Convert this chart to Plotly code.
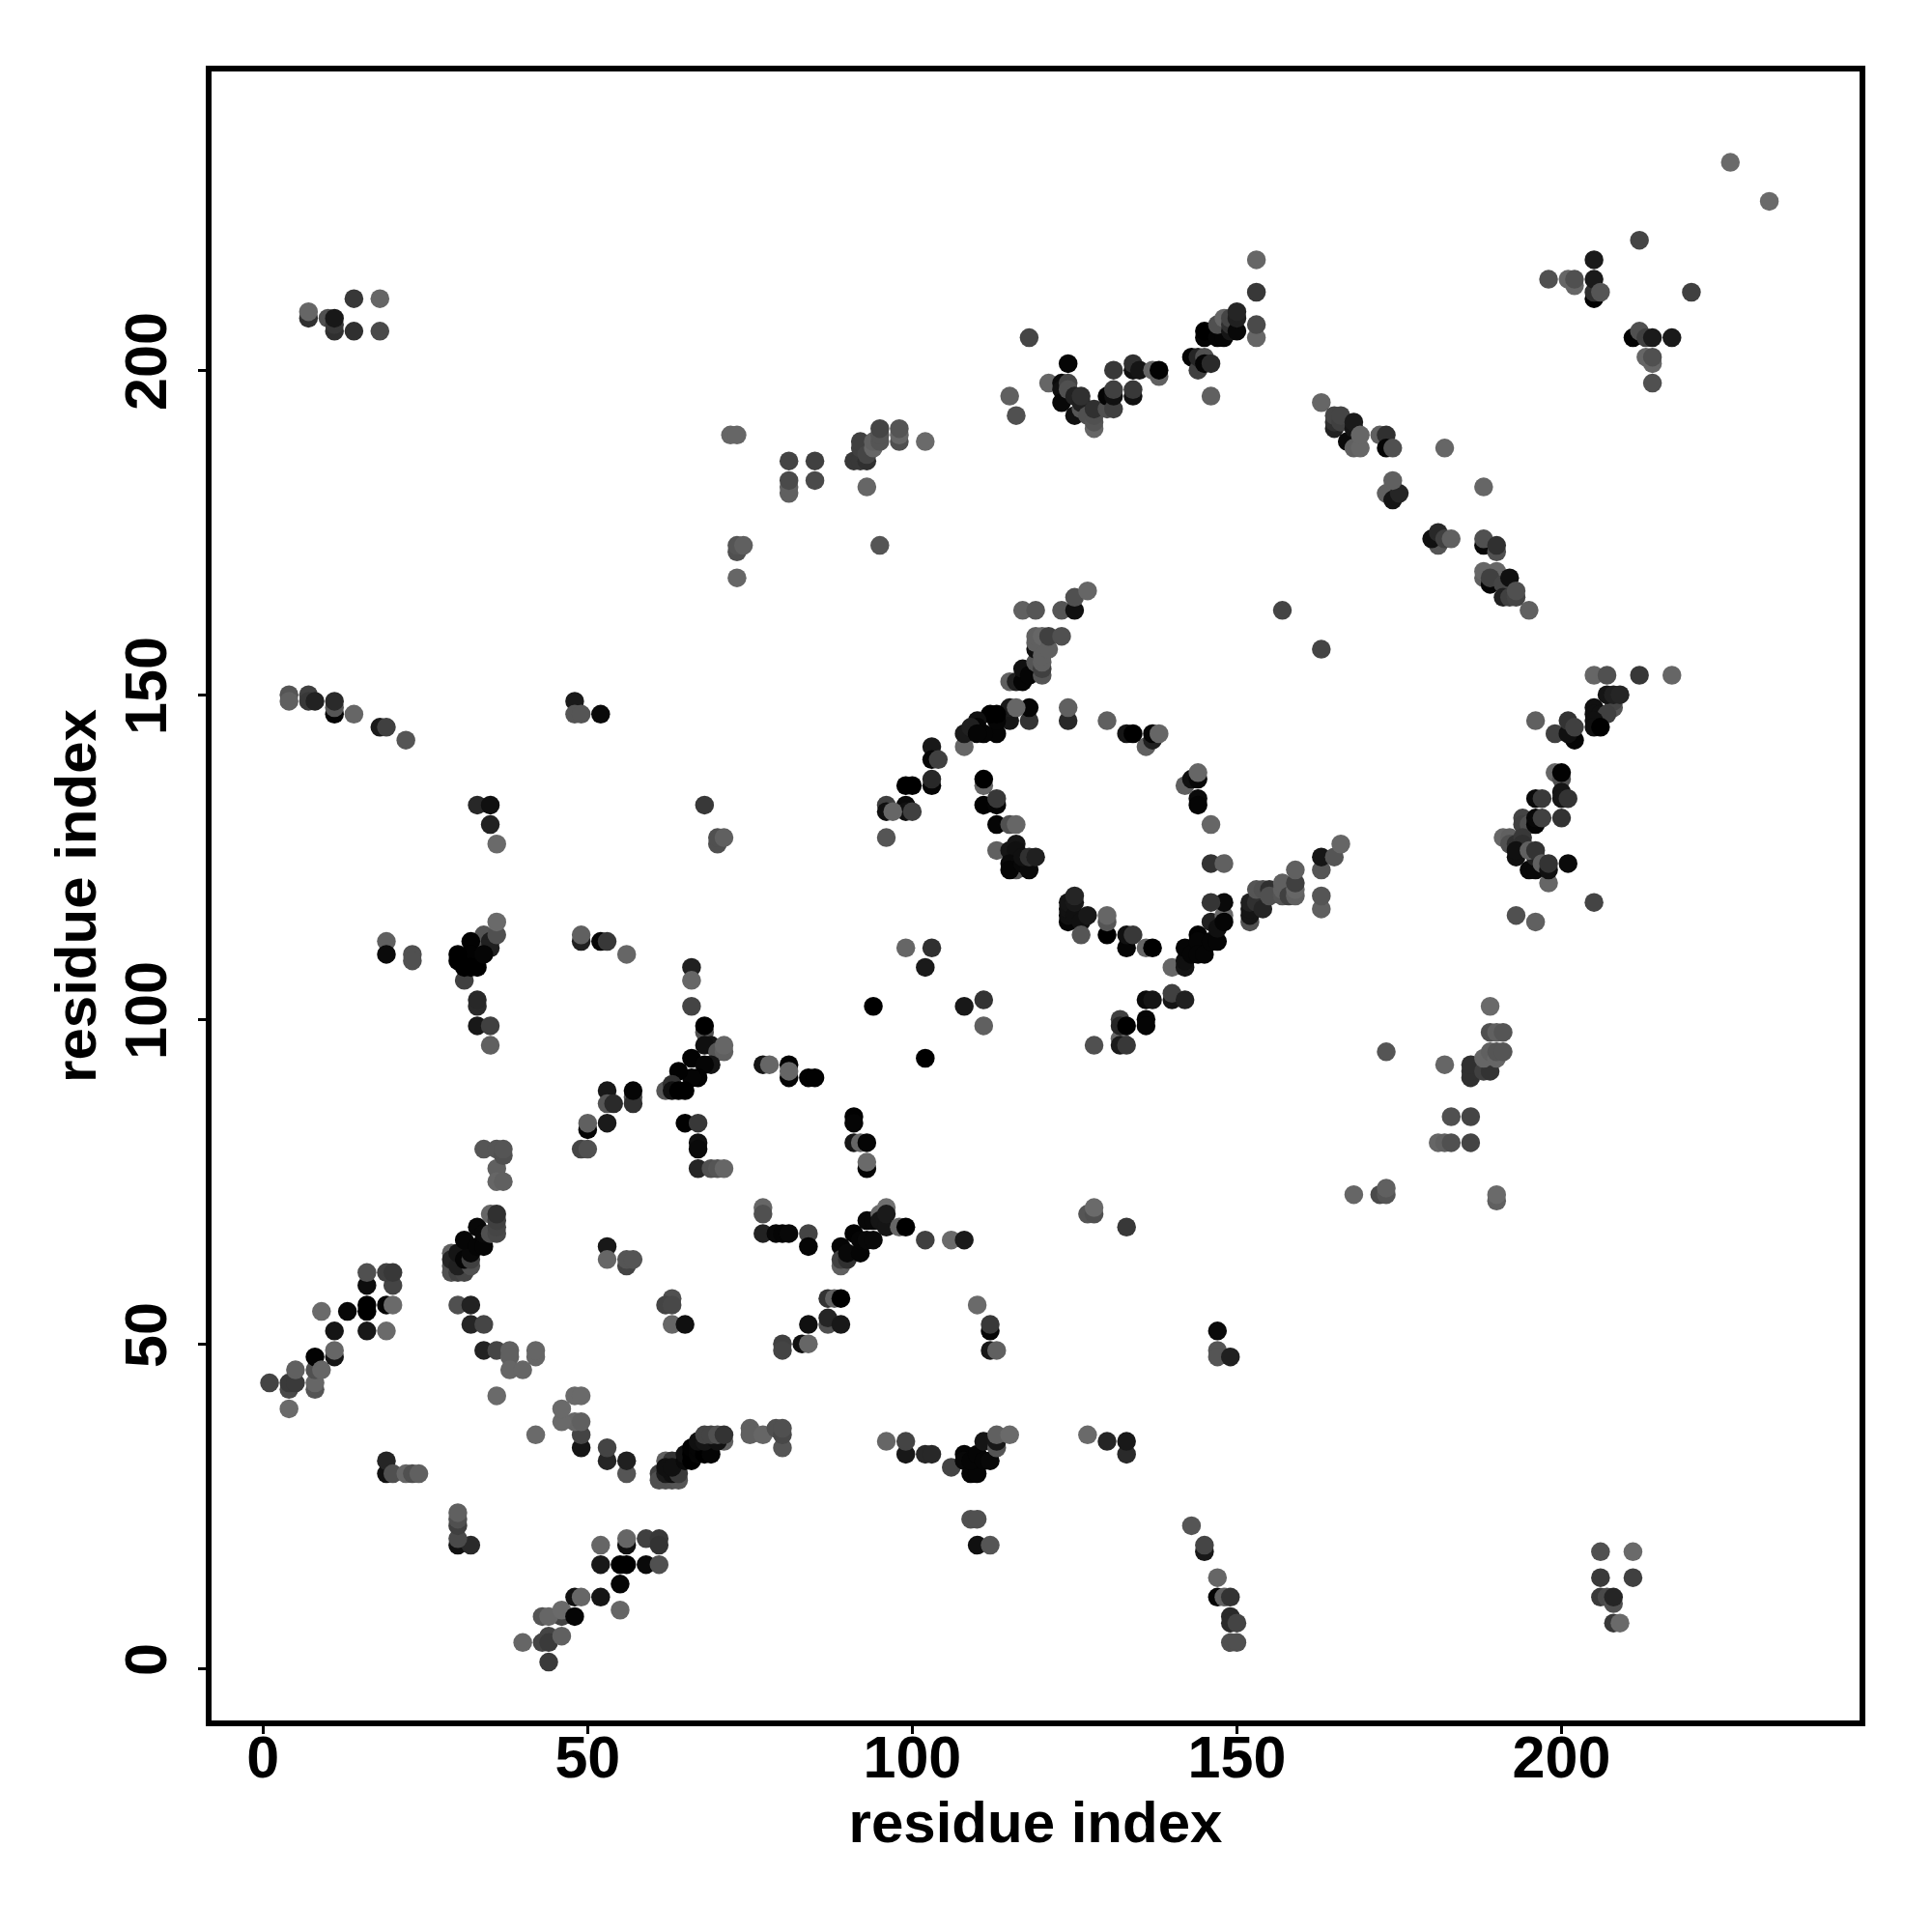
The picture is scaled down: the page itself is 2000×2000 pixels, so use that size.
import plotly.graph_objects as go

# Each contact is (residue i, residue j, grey score)
contacts_sw = [
(44,1,0x3a),(40,4,0x66),(43,4,0x44),(44,5,0x44),(44,4,0x3a),(46,5,0x60),(46,8,0x44),(43,8,0x55),(44,8,0x66),(46,9,0x6a),(48,8,0x05),
(48,11,0x11),(49,11,0x66),(52,11,0x15),(55,13,0x05),(55,9,0x66),(52,16,0x18),(55,16,0x00),(56,16,0x00),(59,16,0x0a),(61,16,0x50),
(56,19,0x10),(52,19,0x66),(56,20,0x66),(59,20,0x40),(61,20,0x38),(61,19,0x33),
(30,19,0x11),(32,19,0x2a),(30,20,0x4a),(30,22,0x40),(30,23,0x50),(30,24,0x60),
(19,30,0x11),(19,32,0x25),(20,30,0x50),(22,30,0x66),(23,30,0x50),(24,30,0x60),
]
contacts_arc_a = [
(42,36,0x6a),(49,34,0x15),(49,36,0x44),(48,38,0x66),(46,38,0x6a),(49,38,0x60),(46,40,0x6a),(48,42,0x6a),(49,42,0x6a),
(53,32,0x25),(53,34,0x44),(56,30,0x55),(56,32,0x20),
(61,30,0x40),(61,29,0x50),(62,29,0x50),(63,29,0x50),(64,29,0x55),(62,32,0x60),(63,32,0x33),(64,32,0x33),(62,30,0x1a),(63,30,0x10),(64,30,0x3a),(62,31,0x10),(63,31,0x10),
(65,32,0x0a),(65,33,0x10),(66,32,0x00),(66,33,0x00),(66,34,0x02),(67,33,0x05),(67,34,0x05),(68,33,0x00),(69,33,0x05),(67,35,0x10),(68,35,0x15),
(71,35,0x60),(70,35,0x11),(68,36,0x44),(69,36,0x44),(70,36,0x50),(71,36,0x33),
(75,37,0x60),(75,36,0x60),(77,36,0x66),(79,37,0x50),(80,34,0x55),(80,36,0x48),(80,37,0x50),
(99,33,0x18),(96,35,0x66),(99,35,0x44),(102,33,0x28),(103,33,0x28),(106,31,0x44),
(108,33,0x05),(108,32,0x08),(109,30,0x05),(110,30,0x05),(109,32,0x05),(110,33,0x05),(111,32,0x05),(112,32,0x08),(111,35,0x15),(113,34,0x55),(113,35,0x18),(113,36,0x60),(115,36,0x6a),
(127,36,0x6a),(130,35,0x25),(133,33,0x2a),(133,35,0x18),
(109,23,0x50),(110,23,0x50),(110,19,0x10),(112,19,0x55),
(143,22,0x55),(145,18,0x18),(145,19,0x45),(147,14,0x66),(147,11,0x05),(148,11,0x60),(149,11,0x33),(149,8,0x2a),(149,7,0x2a),(150,7,0x44),(149,4,0x50),(150,4,0x50),
(206,18,0x50),(211,18,0x6a),(206,14,0x3a),(211,14,0x40),(206,11,0x3a),(207,11,0x4a),(208,10,0x50),(208,11,0x25),(208,7,0x38),(209,7,0x6a),
]
contacts_diag_low = [
(1,44,0x44),(4,43,0x4a),(4,44,0x3a),(5,44,0x3a),(5,46,0x60),(4,40,0x6a),(8,43,0x55),(8,44,0x66),(8,46,0x50),(8,48,0x02),(9,46,0x66),
(11,48,0x15),(11,49,0x66),(11,52,0x15),(9,55,0x6a),(13,55,0x08),(16,56,0x00),(16,55,0x00),(16,52,0x18),(16,59,0x0d),(16,61,0x50),
(19,56,0x05),(20,56,0x6a),(19,52,0x6a),(20,59,0x44),(19,61,0x40),(20,61,0x38),
(29,61,0x50),(29,62,0x50),(29,64,0x60),(29,63,0x25),(30,61,0x40),(31,61,0x45),(30,62,0x20),(32,62,0x50),(30,64,0x15),(31,63,0x05),(32,63,0x40),(32,64,0x08),(31,66,0x05),
(33,65,0x05),(34,65,0x05),(33,68,0x08),(34,67,0x08),(35,67,0x50),(36,67,0x48),(36,68,0x45),(35,70,0x66),(36,69,0x40),(36,70,0x30),
(36,77,0x60),(36,75,0x66),(37,75,0x60),
(30,56,0x50),(32,56,0x22),(32,53,0x25),(34,53,0x45),(34,49,0x22),(36,49,0x45),(38,49,0x60),(38,48,0x60),(38,46,0x66),(40,46,0x66),(42,48,0x66),(42,49,0x66),(36,42,0x6a),
(53,65,0x18),(53,63,0x66),(56,62,0x44),(56,63,0x55),(57,63,0x55),
(63,57,0x50),(62,56,0x44),(63,56,0x48),(63,53,0x66),(65,53,0x10),
(80,50,0x40),(80,49,0x44),(83,50,0x10),(84,50,0x66),(84,53,0x10),
(87,53,0x50),(87,54,0x25),(89,53,0x18),(87,57,0x33),(88,57,0x60),(89,57,0x00),
(110,56,0x6a),(112,52,0x05),(112,53,0x38),(112,49,0x18),(113,49,0x60),
(147,52,0x0a),(147,49,0x55),(147,48,0x55),(149,48,0x20),
(77,71,0x66),(77,70,0x50),(77,67,0x22),(79,67,0x08),(80,67,0x05),(81,67,0x08),(84,67,0x44),(84,65,0x05),
(89,65,0x05),(89,62,0x60),(89,63,0x40),(90,63,0x30),(90,64,0x08),(91,67,0x02),(92,64,0x05),(92,66,0x05),(93,69,0x08),(93,66,0x08),(94,66,0x08),(94,69,0x08),
(95,70,0x6a),(95,69,0x15),(96,68,0x15),(96,71,0x70),(96,70,0x1a),(98,68,0x66),(99,68,0x00),(102,66,0x40),(106,66,0x6a),(108,66,0x1a),
(127,70,0x55),(128,70,0x50),(128,71,0x6a),(133,68,0x38),
]
contacts_mid_left = [
(4,150,0x55),(4,149,0x60),(7,150,0x40),(7,149,0x38),(8,149,0x22),(11,147,0x05),(11,148,0x55),(11,149,0x2a),(14,147,0x66),(18,145,0x1a),(19,145,0x40),(22,143,0x55),
(48,149,0x1a),(48,147,0x55),(49,147,0x55),(52,147,0x0a),
(33,133,0x28),(35,133,0x10),(35,130,0x22),(36,127,0x6a),(68,133,0x38),(70,127,0x50),(70,128,0x50),(71,128,0x60),
(19,112,0x60),(19,110,0x0a),(23,110,0x50),(23,109,0x50),
(31,106,0x40),(34,111,0x50),(35,111,0x20),(34,113,0x55),(35,112,0x20),(36,113,0x50),(36,115,0x6a),(32,112,0x02),(32,110,0x02),(30,110,0x00),(30,109,0x00),(31,108,0x00),(33,108,0x00),(32,108,0x00),(34,110,0x05),
(33,102,0x2a),(33,103,0x28),(33,99,0x18),(35,99,0x40),(35,96,0x60),
(49,112,0x20),(49,113,0x60),(52,112,0x05),(53,112,0x38),(56,110,0x66),
(66,108,0x20),(66,106,0x66),(66,102,0x44),(68,98,0x50),(68,99,0x00),(69,96,0x15),(68,96,0x10),
(70,95,0x55),(71,95,0x60),(71,96,0x66),(69,93,0x15),(66,94,0x02),(68,93,0x05),(67,91,0x02),(66,91,0x05),(64,92,0x02),(62,89,0x55),(63,90,0x30),(63,89,0x10),(65,89,0x00),(64,89,0x00),
(53,89,0x18),(53,87,0x55),(54,87,0x2a),(57,88,0x55),(57,87,0x30),(57,89,0x05),
(50,83,0x05),(50,84,0x60),(53,84,0x1a),(65,84,0x02),(67,84,0x38),(67,81,0x10),(67,80,0x0a),(49,80,0x45),(50,80,0x50),
(34,80,0x55),(36,80,0x55),(37,79,0x50),(37,80,0x55),(67,77,0x25),(69,77,0x50),(70,77,0x55),(71,77,0x66),
(77,93,0x15),(78,93,0x66),(81,91,0x05),(81,93,0x02),(81,92,0x66),
]
contacts_ring = [
(84,91,0x02),(85,91,0x02),(91,85,0x02),(91,84,0x05),(91,81,0x15),(92,81,0x66),(93,81,0x05),(93,77,0x05),(93,78,0x6a),
(102,94,0x00),(94,102,0x00),(108,102,0x18),(111,103,0x33),(111,99,0x60),(99,111,0x66),(103,111,0x30),(102,108,0x1a),
(128,96,0x50),(132,97,0x66),(132,96,0x1a),(133,96,0x38),(132,100,0x40),(132,99,0x25),(133,99,0x00),(136,100,0x05),(136,99,0x05),(136,103,0x0a),(137,103,0x15),(140,103,0x15),(140,104,0x40),(142,103,0x20),
(140,108,0x66),(142,108,0x15),(142,109,0x10),(142,111,0x05),(143,110,0x05),(144,113,0x02),(144,112,0x05),(144,110,0x05),(145,110,0x05),(146,115,0x20),(146,112,0x05),(147,112,0x05),(147,114,0x10),(148,116,0x6a),(148,115,0x05),(148,118,0x0a),(146,118,0x35),(146,124,0x33),(148,124,0x60),
(146,130,0x66),(144,134,0x0a),(144,133,0x05),(142,136,0x60),(143,137,0x10),(144,137,0x08),(144,138,0x66),
(136,142,0x60),(137,143,0x20),(137,144,0x05),(138,144,0x66),(133,144,0x15),(134,144,0x00),(130,146,0x60),(124,146,0x28),(124,148,0x60),
(118,146,0x33),(118,148,0x05),(115,146,0x15),(115,148,0x1a),(116,148,0x66),(113,144,0x05),(113,146,0x05),(112,147,0x00),(113,147,0x00),(111,144,0x05),(110,146,0x10),(110,145,0x05),(108,142,0x66),(108,144,0x1a),(109,145,0x20),(110,144,0x05),
(103,142,0x18),(103,140,0x05),(104,140,0x40),(103,136,0x05),(103,137,0x28),(99,136,0x00),(100,136,0x00),(99,133,0x0a),(99,132,0x10),(100,132,0x40),(96,133,0x40),(96,132,0x10),(97,132,0x66),(96,128,0x55),
(111,136,0x66),(111,137,0x00),(111,133,0x02),(113,133,0x05),(113,134,0x38),(113,130,0x05),(115,130,0x50),(116,130,0x66),(113,126,0x60),
(116,123,0x55),(115,126,0x15),(116,127,0x15),(116,126,0x10),(115,124,0x0a),(115,123,0x05),(117,124,0x08),(118,123,0x0a),(117,125,0x10),(118,125,0x30),(119,125,0x20),
(124,115,0x05),(124,116,0x10),(124,117,0x12),(124,118,0x15),(125,116,0x10),(125,118,0x18),(125,119,0x25),(126,115,0x10),(127,116,0x18),(126,113,0x55),
(130,113,0x00),(130,115,0x55),(130,116,0x66),(133,111,0x05),(133,113,0x10),(134,113,0x38),(136,111,0x66),(137,111,0x00),
(152,115,0x50),(152,116,0x15),(152,117,0x15),(152,118,0x20),(153,118,0x30),(154,117,0x25),(153,120,0x55),(154,120,0x50),(155,120,0x30),(155,119,0x50),(157,119,0x55),(157,120,0x60),(157,121,0x60),(158,119,0x40),(159,119,0x60),(159,120,0x66),(159,121,0x40),(159,123,0x60),
(163,117,0x60),(163,119,0x55),(163,123,0x55),(163,125,0x15),(165,125,0x55),(166,127,0x66),
]
contacts_right = [
(173,95,0x55),(182,93,0x66),(189,102,0x6a),(189,98,0x50),(190,98,0x60),(191,98,0x55),(186,91,0x30),(186,92,0x30),(186,93,0x30),(188,92,0x40),(189,92,0x33),(188,94,0x66),(189,95,0x60),(190,94,0x66),(190,95,0x55),(191,95,0x55),
(183,85,0x50),(186,85,0x44),(181,81,0x66),(182,81,0x60),(183,81,0x50),(186,81,0x44),
(168,73,0x66),(172,73,0x4a),(173,73,0x55),(173,74,0x60),(190,72,0x60),(190,73,0x6a),
(163,157,0x44),(157,163,0x44),
(174,182,0x55),(173,181,0x60),(174,180,0x15),(175,181,0x25),
(181,173,0x55),(180,174,0x10),(181,175,0x28),(182,174,0x40),(183,174,0x60),
(188,173,0x08),(188,174,0x50),(190,172,0x50),(190,173,0x30),
(188,168,0x60),(188,169,0x66),(190,169,0x66),(189,167,0x05),(189,168,0x40),(191,167,0x45),(191,165,0x20),(192,165,0x40),(192,168,0x10),(193,165,0x44),(193,166,0x50),(195,163,0x60),
(196,146,0x60),(205,153,0x66),(207,153,0x50),(212,153,0x38),(217,153,0x66),
(208,148,0x55),(208,149,0x45),(207,150,0x15),(208,150,0x20),(209,150,0x25),(205,148,0x10),(205,147,0x10),(206,147,0x10),(207,147,0x40),(205,146,0x10),(205,145,0x10),(206,145,0x00),
(199,144,0x40),(202,143,0x05),(201,144,0x10),(201,146,0x33),(202,145,0x40),
(199,138,0x66),(200,137,0x50),(200,138,0x02),(200,135,0x15),(200,134,0x15),(201,134,0x33),(196,134,0x0a),(197,134,0x3a),(200,131,0x33),
(194,131,0x44),(194,130,0x40),(195,130,0x50),(196,130,0x05),(196,131,0x08),(197,131,0x40),
(191,128,0x66),(192,128,0x60),(192,127,0x50),(193,127,0x30),(194,128,0x38),(194,127,0x30),(193,125,0x10),(193,126,0x10),(195,123,0x08),(196,123,0x08),(196,125,0x20),(195,126,0x60),(196,126,0x33),(197,124,0x60),(198,121,0x66),(198,123,0x10),(198,124,0x33),(201,124,0x0a),
(205,118,0x44),(193,116,0x50),(196,115,0x60),
]
contacts_top_left = [
(7,208,0x30),(7,209,0x66),(10,208,0x50),(11,206,0x30),(11,207,0x38),(11,208,0x18),(14,211,0x38),(14,206,0x30),(18,211,0x66),(18,206,0x4a),
(72,190,0x66),(73,190,0x66),(73,172,0x50),(73,173,0x55),(74,173,0x60),(73,168,0x66),
(81,186,0x44),(85,186,0x40),(81,181,0x60),(81,182,0x60),(81,183,0x4a),(85,183,0x4a),
(91,186,0x38),(92,186,0x38),(93,186,0x30),(92,188,0x40),(92,189,0x40),(93,187,0x45),(93,182,0x66),(94,188,0x66),(94,189,0x60),(95,189,0x55),(95,190,0x55),(95,191,0x45),(98,189,0x50),(98,190,0x66),(98,191,0x55),(102,189,0x6a),
(95,173,0x55),
]
contacts_top_mid = [
(118,205,0x45),(115,196,0x60),(116,193,0x50),(121,198,0x66),(124,201,0x05),(123,198,0x0a),(123,197,0x10),(123,195,0x08),(124,198,0x45),(124,197,0x50),(125,193,0x10),(125,196,0x22),(126,194,0x55),(126,195,0x20),(126,196,0x30),(127,193,0x50),(128,191,0x66),(128,192,0x55),(128,193,0x50),(128,194,0x30),
(130,194,0x50),(130,196,0x05),(131,194,0x40),(131,196,0x10),(131,197,0x40),(131,200,0x38),(134,196,0x10),(134,197,0x38),(134,200,0x10),(134,201,0x30),(135,200,0x15),(137,200,0x66),(138,199,0x60),(138,200,0x02),
(143,202,0x05),(144,200,0x40),(144,202,0x25),(145,202,0x50),(145,201,0x05),(146,201,0x2a),(146,196,0x60),
(145,205,0x05),(145,206,0x00),(147,205,0x05),(148,205,0x05),(147,207,0x50),(148,208,0x66),(149,206,0x15),(149,207,0x30),(149,208,0x45),(150,206,0x08),(150,208,0x20),(150,209,0x25),
(153,217,0x66),(153,212,0x38),(153,205,0x66),(153,207,0x4a),
(117,163,0x60),(119,163,0x55),(123,163,0x55),(125,163,0x10),(125,165,0x50),(127,166,0x66),
(115,152,0x60),(116,152,0x20),(117,152,0x05),(117,154,0x10),(118,153,0x05),(119,155,0x55),(119,157,0x10),(119,158,0x60),(119,159,0x60),(120,153,0x55),(120,154,0x40),(120,155,0x60),(120,156,0x60),(120,159,0x66),(121,157,0x60),(121,159,0x40),(123,159,0x50),
]
contacts_top_right = [
(226,232,0x6a),(232,226,0x6a),(212,220,0x45),(205,217,0x1a),(205,211,0x02),(205,212,0x30),(205,214,0x1a),(206,212,0x55),(198,214,0x50),(201,214,0x66),(202,213,0x66),(202,214,0x50),(220,212,0x40),
(211,205,0x02),(212,206,0x50),(213,205,0x40),(214,205,0x1a),(217,205,0x1a),(214,201,0x66),(213,202,0x66),(214,202,0x50),(214,198,0x50),
(163,195,0x66),(165,191,0x22),(165,192,0x30),(165,193,0x45),(166,192,0x40),(166,193,0x45),(167,189,0x0a),(168,191,0x15),(168,192,0x1a),(168,188,0x60),(169,188,0x66),(169,190,0x66),(172,190,0x60),(173,190,0x30),(173,188,0x05),(174,188,0x50),
(182,188,0x66),(188,182,0x66),(174,183,0x60),
]

tick_values = [0, 50, 100, 150, 200]
tick_labels = ["0", "50", "100", "150", "200"]
axis_title = "residue index"

all_contacts = (contacts_sw + contacts_arc_a + contacts_diag_low + contacts_mid_left +
                contacts_ring + contacts_right + contacts_top_left + contacts_top_mid +
                contacts_top_right)
xs = [c[0] for c in all_contacts]
ys = [c[1] for c in all_contacts]
scores = [c[2] for c in all_contacts]

fig = go.Figure(go.Scatter(
    x=xs, y=ys, mode="markers",
    marker=dict(size=19.5, color=scores, cmin=0, cmax=255,
                colorscale=[[0, "#000000"], [1, "#ffffff"]],
                showscale=False, line=dict(width=0)),
    hoverinfo="skip"))

tick_font = dict(family="Liberation Sans", size=61, color="black", weight="bold")
title_font = dict(family="Liberation Sans", size=60, color="black", weight="bold")
axis = dict(tickmode="array", tickvals=tick_values, ticktext=tick_labels,
            showgrid=False, zeroline=False, showline=True, mirror=True,
            linecolor="black", linewidth=6, ticks="outside", ticklen=8,
            tickwidth=3, tickcolor="black", tickfont=tick_font)
fig.update_xaxes(range=[-7.93, 245.9], ticklabelstandoff=-28,
                 title=dict(text=axis_title, font=title_font, standoff=4), **axis)
fig.update_yaxes(range=[-8.0, 246.0], tickangle=-90, ticklabelstandoff=9,
                 title=dict(text=axis_title, font=title_font, standoff=0), **axis)
fig.update_layout(width=1984, height=1984, autosize=False,
                  margin=dict(l=211, r=67, t=66, b=211, autoexpand=False),
                  paper_bgcolor="white", plot_bgcolor="white", showlegend=False)
fig.write_html("out.html")
